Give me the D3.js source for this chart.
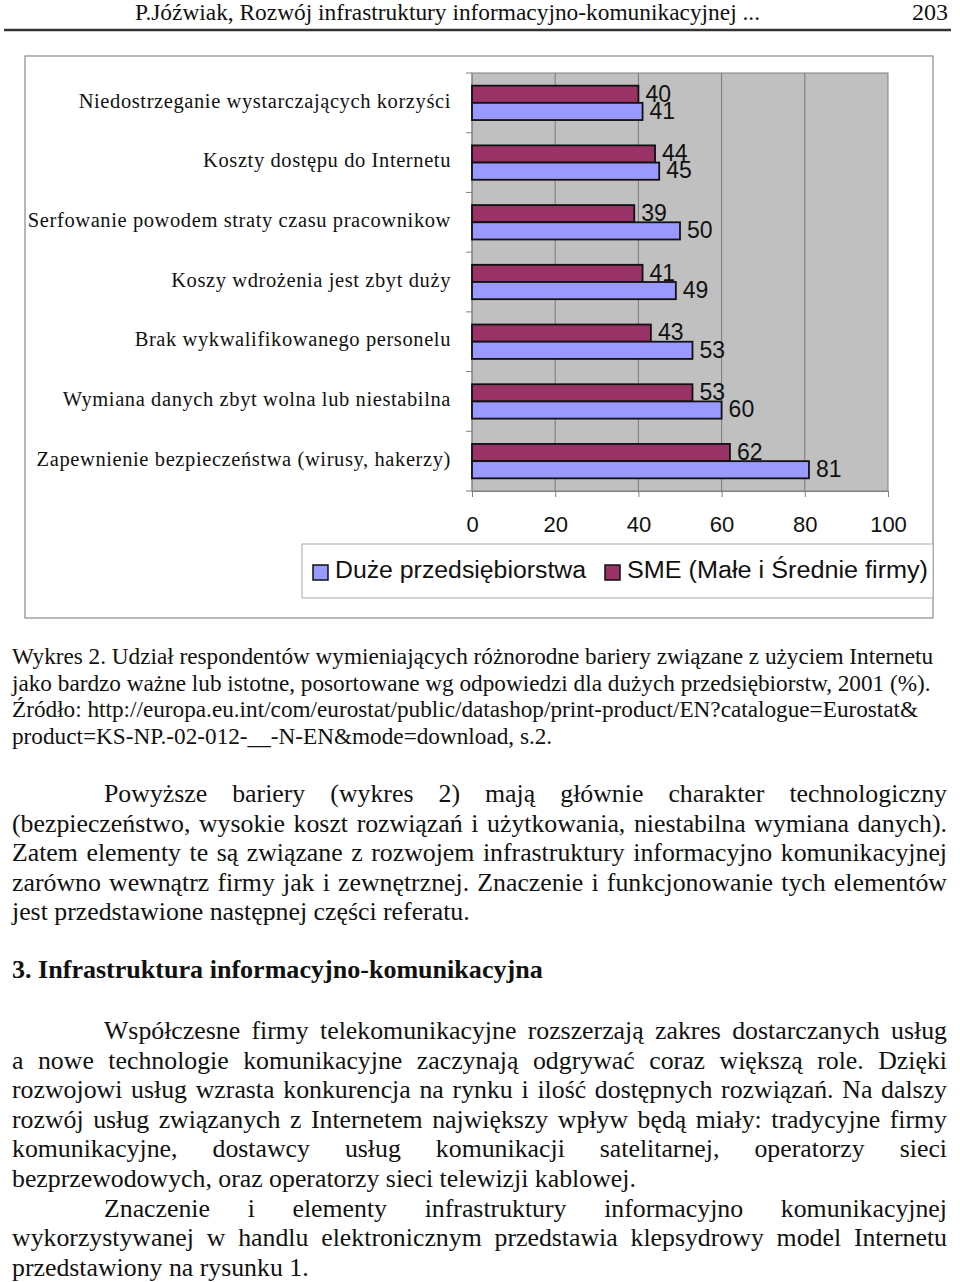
<!DOCTYPE html>
<html>
<head>
<meta charset="utf-8">
<script src="https://cdn.jsdelivr.net/npm/d3@7"></script>
<style>
  html, body { margin: 0; padding: 0; background: #fff; }
  svg { display: block; }
  .serif { font-family: "Liberation Serif", "Times New Roman", serif; fill: #111; }
  .sans { font-family: "Liberation Sans", Arial, sans-serif; fill: #111; }
</style>
</head>
<body>
<div id="page"></div>
<script>
// chart data
var categories = [
  'Niedostrzeganie wystarczających korzyści',
  'Koszty dostępu do Internetu',
  'Serfowanie powodem straty czasu pracownikow',
  'Koszy wdrożenia jest zbyt duży',
  'Brak wykwalifikowanego personelu',
  'Wymiana danych zbyt wolna lub niestabilna',
  'Zapewnienie bezpieczeństwa (wirusy, hakerzy)'
];
var smeValues = [40, 44, 39, 41, 43, 53, 62];
var duzeValues = [41, 45, 50, 49, 53, 60, 81];
var xTicks = [0, 20, 40, 60, 80, 100];
var seriesNames = ['Duże przedsiębiorstwa', 'SME (Małe i Średnie firmy)'];

// page text
var headerText = 'P.Jóźwiak, Rozwój infrastruktury informacyjno-komunikacyjnej ...';
var pageNumber = '203';
var captionLines = [
  'Wykres 2. Udział respondentów wymieniających różnorodne bariery związane z użyciem Internetu',
  'jako bardzo ważne lub istotne, posortowane wg odpowiedzi dla dużych przedsiębiorstw, 2001 (%).',
  'Źródło: http://europa.eu.int/com/eurostat/public/datashop/print-product/EN?catalogue=Eurostat&',
  'product=KS-NP.-02-012-__-N-EN&mode=download, s.2.'
];
var para1 = [
  'Powyższe bariery (wykres 2) mają głównie charakter technologiczny',
  '(bezpieczeństwo, wysokie koszt rozwiązań i użytkowania, niestabilna wymiana danych).',
  'Zatem elementy te są związane z rozwojem infrastruktury informacyjno komunikacyjnej',
  'zarówno wewnątrz firmy jak i zewnętrznej. Znaczenie i funkcjonowanie tych elementów',
  'jest przedstawione następnej części referatu.'
];
var headingText = '3.  Infrastruktura informacyjno-komunikacyjna';
var para2 = [
  'Współczesne firmy telekomunikacyjne rozszerzają zakres dostarczanych usług',
  'a nowe technologie komunikacyjne zaczynają odgrywać coraz większą role. Dzięki',
  'rozwojowi usług wzrasta konkurencja na rynku i ilość dostępnych rozwiązań. Na dalszy',
  'rozwój usług związanych z Internetem największy wpływ będą miały: tradycyjne firmy',
  'komunikacyjne, dostawcy usług komunikacji satelitarnej, operatorzy sieci',
  'bezprzewodowych, oraz operatorzy sieci telewizji kablowej.',
  'Znaczenie i elementy infrastruktury informacyjno komunikacyjnej',
  'wykorzystywanej w handlu elektronicznym przedstawia klepsydrowy model Internetu',
  'przedstawiony na rysunku 1.'
];

var colors = { duze: '#9999ff', sme: '#993366' };

var W = 960, H = 1282;
var svg = d3.select('#page').append('svg')
  .attr('width', W)
  .attr('height', H);

// ---- header ----
svg.append('text')
  .attr('class', 'serif')
  .attr('x', 135).attr('y', 20)
  .attr('font-size', 24)
  .attr('textLength', 625)
  .attr('lengthAdjust', 'spacingAndGlyphs')
  .text(headerText);
svg.append('text')
  .attr('class', 'serif')
  .attr('x', 948).attr('y', 20)
  .attr('font-size', 24)
  .attr('text-anchor', 'end')
  .text(pageNumber);
svg.append('line')
  .attr('x1', 4).attr('x2', 951)
  .attr('y1', 30).attr('y2', 30)
  .attr('stroke', '#333').attr('stroke-width', 2.5);

// ---- chart ----
var frame = { left: 25, top: 56, right: 933, bottom: 618 };
var plot = { left: 472, top: 73, right: 888, bottom: 491 };

svg.append('rect')
  .attr('x', frame.left).attr('y', frame.top)
  .attr('width', frame.right - frame.left)
  .attr('height', frame.bottom - frame.top)
  .attr('fill', '#fff')
  .attr('stroke', '#8a8a8a')
  .attr('stroke-width', 1.2);

var x = d3.scaleLinear()
  .domain([0, 100])
  .range([plot.left, plot.right]);

var y = d3.scaleBand()
  .domain(categories)
  .range([plot.top, plot.bottom])
  .paddingInner(0.424)
  .paddingOuter(0.212);

var ySub = d3.scaleBand()
  .domain(['sme', 'duze'])
  .range([0, y.bandwidth()]);

var chart = svg.append('g');

chart.append('rect')
  .attr('x', plot.left).attr('y', plot.top)
  .attr('width', plot.right - plot.left)
  .attr('height', plot.bottom - plot.top)
  .attr('fill', '#c0c0c0')
  .attr('stroke', '#808080');

// gridlines
chart.selectAll('.grid')
  .data(xTicks.slice(1, -1))
  .enter().append('line')
  .attr('class', 'grid')
  .attr('x1', function(d) { return x(d); })
  .attr('x2', function(d) { return x(d); })
  .attr('y1', plot.top).attr('y2', plot.bottom)
  .attr('stroke', '#7a7a7a')
  .attr('stroke-width', 1);

// bottom axis
var xAxis = d3.axisBottom(x)
  .tickValues(xTicks)
  .tickSize(6)
  .tickPadding(19);

var gx = chart.append('g')
  .attr('transform', 'translate(0,' + plot.bottom + ')')
  .call(xAxis);
gx.select('.domain').attr('stroke', '#808080');
gx.selectAll('.tick line').attr('stroke', '#808080');
gx.selectAll('.tick text')
  .attr('class', 'sans')
  .attr('font-size', 22)
  .attr('fill', '#111');

// left axis (ticks between categories)
var gy = chart.append('g');
gy.append('line')
  .attr('x1', plot.left).attr('x2', plot.left)
  .attr('y1', plot.top).attr('y2', plot.bottom)
  .attr('stroke', '#808080');
var bounds = d3.range(categories.length + 1).map(function(i) {
  return plot.top + i * y.step();
});
gy.selectAll('.ytick')
  .data(bounds)
  .enter().append('line')
  .attr('x1', plot.left - 6).attr('x2', plot.left)
  .attr('y1', function(d) { return d; })
  .attr('y2', function(d) { return d; })
  .attr('stroke', '#808080');

// category labels
gy.selectAll('.cat')
  .data(categories)
  .enter().append('text')
  .attr('class', 'serif')
  .attr('x', 451)
  .attr('y', function(d) { return y(d) + y.bandwidth() / 2 - 2; })
  .attr('dy', '0.33em')
  .attr('text-anchor', 'end')
  .attr('font-size', 20.5)
  .attr('letter-spacing', 0.6)
  .text(function(d) { return d; });

// bars
var rows = categories.map(function(c, i) {
  return { cat: c, sme: smeValues[i], duze: duzeValues[i] };
});

var groups = chart.selectAll('.grp')
  .data(rows)
  .enter().append('g')
  .attr('transform', function(d) { return 'translate(0,' + y(d.cat) + ')'; });

var bars = groups.selectAll('.bar')
  .data(function(d) {
    return [{ key: 'sme', value: d.sme }, { key: 'duze', value: d.duze }];
  })
  .enter();

bars.append('rect')
  .attr('x', x(0))
  .attr('y', function(d) { return ySub(d.key); })
  .attr('width', function(d) { return x(d.value) - x(0); })
  .attr('height', ySub.bandwidth())
  .attr('fill', function(d) { return colors[d.key]; })
  .attr('stroke', '#111')
  .attr('stroke-width', 1.8);

bars.append('text')
  .attr('class', 'sans')
  .attr('x', function(d) { return x(d.value) + 7; })
  .attr('y', function(d) { return ySub(d.key) + ySub.bandwidth() / 2 - 1; })
  .attr('dy', '0.36em')
  .attr('font-size', 23)
  .text(function(d) { return d.value; });

// legend
var legend = svg.append('g');
legend.append('rect')
  .attr('x', 302).attr('y', 544)
  .attr('width', frame.right - 302).attr('height', 54)
  .attr('fill', '#fff')
  .attr('stroke', '#a8a8a8');

var legendItems = [
  { name: seriesNames[0], color: colors.duze, x: 313, len: 251 },
  { name: seriesNames[1], color: colors.sme, x: 605, len: 301 }
];
var li = legend.selectAll('.li')
  .data(legendItems)
  .enter().append('g')
  .attr('transform', function(d) { return 'translate(' + d.x + ',565)'; });
li.append('rect')
  .attr('width', 15).attr('height', 15)
  .attr('fill', function(d) { return d.color; })
  .attr('stroke', '#111')
  .attr('stroke-width', 1.5);
li.append('text')
  .attr('class', 'sans')
  .attr('x', 22).attr('y', 4.5)
  .attr('dy', '0.36em')
  .attr('font-size', 23)
  .attr('textLength', function(d) { return d.len; })
  .attr('lengthAdjust', 'spacingAndGlyphs')
  .text(function(d) { return d.name; });

// ---- text below chart ----
function measure(text, size, weight) {
  var t = svg.append('text')
    .attr('class', 'serif')
    .attr('font-size', size)
    .attr('font-weight', weight || 'normal')
    .text(text);
  var w = t.node().getComputedTextLength();
  t.remove();
  return w;
}

// font size that gives a line the width it has in the reference
function fitSize(text, target, weight) {
  return 20 * target / measure(text, 20, weight);
}

// justified lines get extra word spacing, the last line of a paragraph none
function writeLines(lines, opts) {
  svg.append('g').selectAll('text')
    .data(lines)
    .enter().append('text')
    .attr('class', 'serif')
    .attr('x', function(d, i) { return opts.x0(i); })
    .attr('y', function(d, i) { return opts.y0 + i * opts.lh; })
    .attr('font-size', opts.size)
    .attr('font-weight', opts.weight || 'normal')
    .attr('word-spacing', function(d, i) {
      if (!opts.justify || !opts.justify(i)) return null;
      var target = 947 - opts.x0(i);
      var spaces = d.split(' ').length - 1;
      var extra = (target - measure(d, opts.size, opts.weight)) / spaces;
      return extra > 0 ? extra : null;
    })
    .text(function(d) { return d; });
}

var captionSize = fitSize(captionLines[0], 922);
writeLines(captionLines, {
  x0: function() { return 12; },
  y0: 664, lh: 26.7, size: captionSize
});

var bodySize = fitSize(para1[4], 458);

writeLines(para1, {
  x0: function(i) { return i === 0 ? 104 : 12; },
  y0: 802, lh: 29.6, size: bodySize,
  justify: function(i) { return i < 4; }
});

writeLines([headingText], {
  x0: function() { return 12; },
  y0: 978, lh: 0, weight: 'bold',
  size: fitSize(headingText, 531, 'bold')
});

writeLines(para2, {
  x0: function(i) { return (i === 0 || i === 6) ? 104 : 12; },
  y0: 1039, lh: 29.6, size: bodySize,
  justify: function(i) { return i !== 5 && i !== 8; }
});
</script>
</body>
</html>
